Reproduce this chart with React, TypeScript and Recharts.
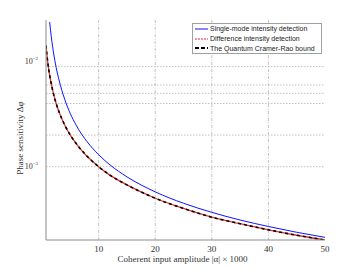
import { Line, LineChart, ReferenceLine, XAxis, YAxis } from "recharts";

// |alpha| x 1000
const amplitude = [0.7, 1, 1.35, 1.5, 2, 2.5, 3, 4, 5, 6, 7, 8, 10, 12, 15, 20, 25, 30, 35, 40, 45, 50];

const singleMode = [
  null, null, 0.0239, 0.02, 0.0125, 0.0088, 0.0067, 0.0044, 0.0032, 0.0025, 0.00204, 0.00172,
  0.0013, 0.00104, 0.0008, 0.000575, 0.000448, 0.000367, 0.00031, 0.000269, 0.000237, 0.000212,
];
const differenceMode = [
  0.0143, 0.01, 0.0074, 0.0067, 0.005, 0.004, 0.00333, 0.0025, 0.002, 0.00167, 0.00143, 0.00125,
  0.001, 0.00083, 0.00067, 0.0005, 0.0004, 0.00033, 0.000286, 0.00025, 0.000222, 0.0002,
];
const quantumBound = [
  0.0143, 0.01, 0.0074, 0.0067, 0.005, 0.004, 0.00333, 0.0025, 0.002, 0.00167, 0.00143, 0.00125,
  0.001, 0.00083, 0.00067, 0.0005, 0.0004, 0.00033, 0.000286, 0.00025, 0.000222, 0.0002,
];

const xTicks = [10, 20, 30, 40, 50];
const xGrid = [10, 20, 30, 40];
const yTicks = [0.001, 0.002, 0.004, 0.005, 0.006, 0.009, 0.01];
const yGrid = [0.009, 0.006, 0.005, 0.004, 0.002, 0.001];

const legendItems = [
  { name: "Single-mode intensity detection", color: "#1010ff", dash: undefined, width: 1 },
  { name: "Difference intensity detection", color: "#e03030", dash: "2 1", width: 1 },
  { name: "The Quantum Cramer-Rao bound", color: "#000", dash: "4 2", width: 2 },
];

const data = amplitude.map((a, i) => ({
  a,
  single: singleMode[i],
  diff: differenceMode[i],
  qcrb: quantumBound[i],
}));

const serif = "'Liberation Serif', 'DejaVu Serif', serif";
const sans = "'Liberation Sans', Arial, sans-serif";
const axisColor = "#8c8c8c";
const gridColor = "#b4b4b4";

function DecadeTick(props: any) {
  const { x, y, payload } = props;
  const exp = Math.round(Math.log10(payload.value));
  if (Math.abs(payload.value / Math.pow(10, exp) - 1) > 1e-6) return <g />;
  return (
    <text x={x} y={y + 2} textAnchor="end" fontFamily={serif} fontSize={8} fill="#333">
      10
      <tspan dy={-3.5} fontSize={5}>{`\u2212${-exp}`}</tspan>
    </text>
  );
}

function YLabel(props: any) {
  const { viewBox } = props;
  const cx = 21;
  const cy = viewBox.y + viewBox.height / 2 + 8;
  return (
    <text
      x={cx}
      y={cy}
      transform={`rotate(-90, ${cx}, ${cy})`}
      textAnchor="middle"
      dominantBaseline="middle"
      fontFamily={serif}
      fontSize={9}
      fill="#333"
    >
      Phase sensitivity Δφ
    </text>
  );
}

export default function App() {
  return (
    <div style={{ position: "absolute", top: 0, left: 0, width: 360, height: 270, background: "#fff" }}>
      <LineChart width={360} height={270} data={data} margin={{ top: 20, right: 35, bottom: 0, left: 0 }}>
        <XAxis
          dataKey="a"
          type="number"
          domain={[0.7, 50]}
          allowDataOverflow
          ticks={xTicks}
          height={30}
          tickLine={false}
          stroke={axisColor}
          tick={{ fontFamily: serif, fontSize: 9, fill: "#333", dy: -2 }}
          label={{
            value: "Coherent input amplitude |α| × 1000",
            position: "insideBottom",
            offset: 8,
            dx: -3,
            style: { fontFamily: serif, fontSize: 9, fill: "#333" },
          }}
        />
        <XAxis xAxisId="top" orientation="top" type="number" domain={[0.7, 50]} height={0} tick={false} tickLine={false} stroke={axisColor} />
        <YAxis
          type="number"
          scale="log"
          domain={[0.0002, 0.025]}
          allowDataOverflow
          ticks={yTicks}
          width={46}
          tickLine={false}
          stroke={axisColor}
          tick={<DecadeTick />}
          label={<YLabel />}
        />
        <YAxis yAxisId="right" orientation="right" type="number" domain={[0, 1]} width={0} tick={false} tickLine={false} stroke={axisColor} />
        {xGrid.map((v) => (
          <ReferenceLine key={`vx${v}`} x={v} stroke={gridColor} strokeDasharray="3 1.5 1 1.5" strokeWidth={0.8} />
        ))}
        {yGrid.map((v) => (
          <ReferenceLine key={`hy${v}`} y={v} stroke={gridColor} strokeDasharray="1.5 1.5" strokeWidth={0.8} />
        ))}
        <Line type="monotone" dataKey="single" stroke="#1010ff" strokeWidth={1} dot={false} isAnimationActive={false} />
        <Line type="monotone" dataKey="diff" stroke="#e03030" strokeWidth={1.3} dot={false} isAnimationActive={false} />
        <Line type="monotone" dataKey="qcrb" stroke="#000" strokeWidth={1.6} strokeDasharray="3 3" dot={false} isAnimationActive={false} />
      </LineChart>
      <div
        style={{
          position: "absolute",
          left: 192,
          top: 23,
          width: 128,
          border: "1px solid #a0a0a0",
          background: "#fff",
          padding: "0",
          fontFamily: sans,
          fontSize: 7,
          color: "#222",
        }}
      >
        {legendItems.map((item) => (
          <div key={item.name} style={{ display: "flex", alignItems: "center", height: 9.7 }}>
            <svg width={16} height={6} style={{ marginLeft: 1 }}>
              <line x1={1} y1={3} x2={14} y2={3} stroke={item.color} strokeWidth={item.width} strokeDasharray={item.dash} />
            </svg>
            <span style={{ whiteSpace: "nowrap" }}>{item.name}</span>
          </div>
        ))}
      </div>
    </div>
  );
}
